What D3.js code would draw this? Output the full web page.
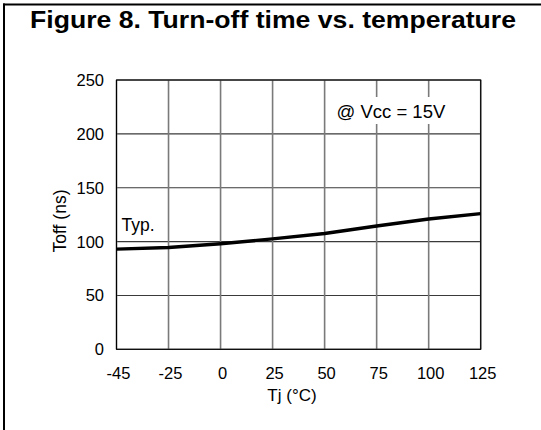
<!DOCTYPE html>
<html>
<head>
<meta charset="utf-8">
<script src="https://cdn.jsdelivr.net/npm/d3@7"></script>
<style>
  html, body { margin: 0; padding: 0; background: #fff; }
  svg { display: block; }
  text { font-family: "Liberation Sans", Arial, sans-serif; fill: #000; }
</style>
</head>
<body>
<svg id="chart" width="541" height="430"></svg>
<script>
// ---- data ----
const temperatures = ["-45", "-25", "0", "25", "50", "75", "100", "125"];
const toffTyp = [93, 94.5, 98, 102.5, 107.5, 114.5, 121, 126];
const yTicks = [0, 50, 100, 150, 200, 250];
const titleText = "Figure 8. Turn-off time vs. temperature";
const xTitle = "Tj (°C)";
const yTitle = "Toff (ns)";
const condition = "@ Vcc = 15V";
const seriesLabel = "Typ.";

(function () {
const svg = d3.select("#chart");
const pLeft = 116.5, pRight = 480.7, pTop = 80, pBottom = 349.3;

const x = d3.scalePoint().domain(temperatures).range([pLeft, pRight]);
const y = d3.scaleLinear().domain([0, 250]).range([pBottom, pTop]);

// outer figure frame
svg.append("line").attr("x1", 3).attr("x2", 541).attr("y1", 4.5).attr("y2", 4.5)
  .attr("stroke", "#000").attr("stroke-width", 2);
svg.append("line").attr("x1", 4).attr("x2", 4).attr("y1", 3.5).attr("y2", 430)
  .attr("stroke", "#000").attr("stroke-width", 2);

// title
svg.append("text").attr("x", 273).attr("y", 28)
  .attr("text-anchor", "middle")
  .attr("font-weight", "bold").attr("font-size", 24)
  .attr("textLength", 486).attr("lengthAdjust", "spacingAndGlyphs")
  .text(titleText);

// horizontal gridlines
svg.append("g").selectAll("line").data(yTicks).join("line")
  .attr("x1", pLeft).attr("x2", pRight)
  .attr("y1", d => y(d)).attr("y2", d => y(d))
  .attr("stroke", "#3a3a3a").attr("stroke-width", 1.1);

// vertical gridlines
svg.append("g").selectAll("line").data(temperatures).join("line")
  .attr("x1", d => x(d)).attr("x2", d => x(d))
  .attr("y1", pTop).attr("y2", pBottom)
  .attr("stroke", "#7a7a7a").attr("stroke-width", 1.6);

// white box behind condition text
svg.append("rect").attr("x", 331).attr("y", 97).attr("width", 136).attr("height", 27)
  .attr("fill", "#fff");

// frame
svg.append("rect").attr("x", pLeft).attr("y", pTop)
  .attr("width", pRight - pLeft).attr("height", pBottom - pTop)
  .attr("fill", "none").attr("stroke", "#000").attr("stroke-width", 1.1);

// y tick labels
svg.append("g").selectAll("text").data(yTicks).join("text")
  .attr("x", 104).attr("y", d => y(d) + 6)
  .attr("text-anchor", "end").attr("font-size", 16.5)
  .text(d => d);

// x tick labels
svg.append("g").selectAll("text").data(temperatures).join("text")
  .attr("x", d => x(d) + 2).attr("y", 379)
  .attr("text-anchor", "middle").attr("font-size", 16.5)
  .text(d => d);

// axis titles
svg.append("text").attr("x", 292).attr("y", 401)
  .attr("text-anchor", "middle").attr("font-size", 17)
  .text(xTitle);
svg.append("text")
  .attr("transform", "translate(66,221) rotate(-90)")
  .attr("text-anchor", "middle").attr("font-size", 17.5)
  .text(yTitle);

// annotations
svg.append("text").attr("x", 336.5).attr("y", 118)
  .attr("font-size", 18.5).text(condition);
svg.append("text").attr("x", 121.5).attr("y", 231)
  .attr("font-size", 17.5).text(seriesLabel);

// curve
const line = d3.line()
  .x((d, i) => x(temperatures[i]))
  .y(d => y(d));
svg.append("path").datum(toffTyp)
  .attr("d", line)
  .attr("fill", "none").attr("stroke", "#000")
  .attr("stroke-width", 3.4).attr("stroke-linejoin", "round");
})();
</script>
</body>
</html>
